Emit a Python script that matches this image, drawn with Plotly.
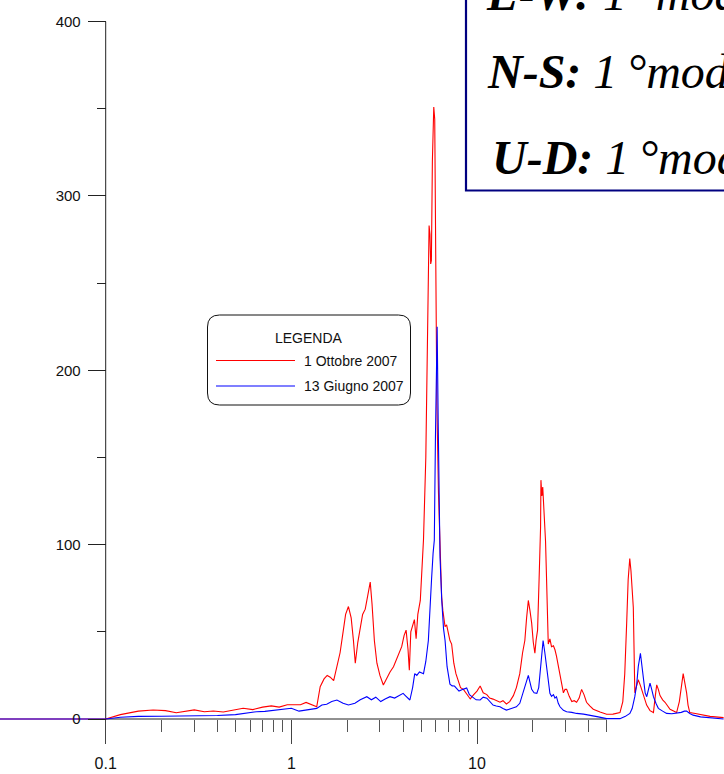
import plotly.graph_objects as go

# ---------------- data ----------------
series_names = ["1 Ottobre 2007", "13 Giugno 2007"]

red_f = [0.025, 0.1, 0.12, 0.15, 0.18, 0.21, 0.24, 0.27, 0.3, 0.34, 0.38, 0.43, 0.48, 0.55, 0.62, 0.7,
         0.78, 0.86, 0.95, 1.05, 1.12, 1.2, 1.3, 1.37, 1.43, 1.5, 1.56, 1.62, 1.69, 1.76, 1.83, 1.9,
         1.96, 2.03, 2.1, 2.16, 2.21, 2.28, 2.35, 2.42, 2.5, 2.58, 2.66, 2.72, 2.8, 2.89, 3.0, 3.13,
         3.25, 3.4, 3.55, 3.7, 3.8, 3.93, 4.05, 4.15, 4.25, 4.32, 4.4, 4.5, 4.6, 4.7, 4.8, 4.95,
         5.05, 5.15, 5.3, 5.45, 5.52, 5.58, 5.63, 5.68, 5.75, 5.85, 5.92, 6.0, 6.08, 6.2, 6.35, 6.45,
         6.55, 6.65, 6.73, 6.86, 7.0, 7.15, 7.3, 7.5, 7.7, 7.9, 8.15, 8.45, 8.8, 9.2, 9.6, 10.0,
         10.4, 10.8, 11.3, 11.7, 12.2, 12.7, 13.3, 13.8, 14.4, 15.0, 15.7, 16.3, 17.0, 17.6, 18.1, 18.5,
         18.9, 19.3, 19.7, 20.1, 20.5, 20.8, 21.2, 21.6, 22.0, 22.1, 22.35, 22.6, 23.0, 23.4, 23.7, 24.2,
         24.7, 25.2, 25.8, 26.3, 26.8, 27.4, 28.3, 29.2, 29.8, 30.4, 31.4, 32.4, 33.4, 34.4, 35.5, 36.6,
         37.7, 38.9, 40.5, 42.3, 46, 49.9, 54, 58.9, 61, 62.5, 64, 65.2, 66.5, 67.5, 69.5, 70.2,
         70.8, 72, 73.9, 76, 78.7, 82, 85.5, 89.2, 91, 92.9, 94.8, 96.8, 100, 103, 109.6, 118.9,
         123, 126.5, 129, 131, 134.6, 137, 140, 150, 158.6, 180, 213]
red_v = [0, 0, 2.5, 4.5, 5.2, 4.8, 3.6, 4.3, 5.2, 4.2, 4.6, 4.0, 5.0, 6.2, 5.4, 6.8,
         7.5, 6.8, 8.2, 8.0, 8.2, 9.5, 8.0, 7.0, 18.5, 23, 25, 24, 22, 30, 38, 50,
         60, 64.5, 58, 45, 32, 44, 52, 60, 63, 70, 78.5, 66, 45, 32, 25, 19.5,
         23, 27, 30, 35, 38, 41.5, 48, 51, 40, 28, 50, 54, 57, 46, 60, 68,
         84, 103, 150, 240, 283, 278, 261, 263, 320, 351, 344, 260, 180, 130, 90, 70,
         62, 57, 53, 54, 49, 45, 43, 32, 26, 22.5, 18, 17, 14, 11.5, 14, 16,
         18.9, 15, 14, 12, 11.4, 10.5, 9.6, 10.5, 8.6, 10, 13.4, 18, 26, 38, 45, 58,
         68, 62, 55, 44, 37.7, 45, 51, 80, 110, 137, 128, 133, 120, 102, 80, 43,
         46, 41.5, 42, 39.7, 36, 30, 22, 15, 17, 17, 13, 10, 10.5, 9.6, 12, 17,
         14, 9.6, 7.5, 5.6, 4, 2.7, 2.8, 3.7, 10, 26, 55, 80, 92, 85, 64, 35,
         15, 18, 22.5, 19, 13.4, 8, 4.8, 3.7, 12, 19.6, 17, 13.4, 11, 9.6, 5.6, 3.7,
         10, 20.6, 26, 22, 15, 8, 3.7, 3.2, 2.7, 1.5, 0.8]

blue_f = [0.025, 0.1, 0.12, 0.15, 0.2, 0.3, 0.4, 0.5, 0.58, 0.65, 0.72, 0.8, 0.9, 1.0, 1.1, 1.2,
          1.3, 1.37, 1.46, 1.55, 1.65, 1.76, 1.9, 2.03, 2.2, 2.35, 2.55, 2.7, 2.85, 3.03, 3.2, 3.4,
          3.6, 3.8, 4.0, 4.15, 4.35, 4.5, 4.62, 4.74, 4.9, 5.15, 5.3, 5.47, 5.6, 5.69, 5.8, 5.89,
          5.97, 6.04, 6.1, 6.18, 6.25, 6.32, 6.46, 6.6, 6.73, 6.9, 7.15, 7.35, 7.56, 8.0, 8.4, 8.8,
          9.1, 9.4, 9.9, 10.4, 10.8, 11.3, 11.7, 12.2, 12.7, 13.3, 13.8, 14.4, 15.3, 16.3, 17.0, 17.7,
          18.3, 18.9, 19.3, 19.7, 20.3, 21.0, 21.5, 21.8, 22.3, 22.7, 23.2, 23.7, 24.2, 24.7, 25.2, 25.8,
          26.3, 26.8, 27.4, 28.0, 29.2, 30.4, 32.4, 34.4, 37.5, 40.6, 45, 49.9, 54, 58.9, 63, 66.6,
          68.5, 70.8, 72.5, 73.9, 75.9, 77.2, 78.7, 80.5, 82.1, 84, 85.5, 87.3, 89.2, 92, 94.8, 100,
          105, 112, 119, 126, 131, 134.6, 140, 146, 160, 180, 213]
blue_v = [0, 0, 1.0, 1.5, 1.6, 1.8, 2.0, 2.5, 3.5, 4.2, 4.4, 5.0, 5.5, 6.2, 4.5, 5.0,
          5.5, 6.1, 8.0, 8.5, 10, 10.9, 9, 8, 9, 11, 12.8, 11, 12.5, 10, 11.5, 12.8,
          12, 13.5, 14.7, 13, 10.9, 18, 26, 25, 27, 26, 33, 45, 62, 80, 95, 102.6,
          160, 210, 225, 170, 125, 93, 68, 52, 45, 30, 20, 19, 18.9, 16, 17, 17.8,
          14, 12.8, 11, 10.9, 12.5, 11.9, 10, 8, 7.5, 7, 6, 5.1, 6, 7, 9, 14.7,
          20, 25, 21, 17, 15, 14.7, 18, 26, 38, 45, 38, 30, 20, 14.7, 13, 14,
          12, 12.8, 9, 7, 5, 4.2, 3.8, 3.2, 2.8, 2.2, 1.2, 0.2, 0.3, 0.2, 1.5, 3.2,
          6, 12.8, 20, 30, 37.7, 30, 22.5, 15, 12.8, 17, 20.6, 17, 12.8, 9, 6.1, 4.5,
          3.2, 3.0, 3.2, 3.8, 4.5, 4.6, 3.2, 2.2, 1.2, 0.6, 0]

y_tickvals = [0, 100, 200, 300, 400]
y_minor = [50, 150, 250, 350]
x_tickvals = [0.1, 1, 10]
x_ticktext = ["0.1", "1", "10"]
x_minor = [0.2, 0.3, 0.4, 0.5, 0.6, 0.7, 0.8, 0.9, 2, 3, 4, 5, 6, 7, 8, 9, 20, 30, 40, 50]
x_axis_end = 50
y_axis_end = 400

box_lines = [("E-W:", " 1\u2009°modo"), ("N-S:", " 1\u2009°modo"), ("U-D:", " 1\u2009°modo")]
legend_title = "LEGENDA"

# ---------------- layout helpers ----------------
W, H = 724, 774
def px(x):
    return x / W
def py(y):
    return 1 - y / H

Y0PX, YPU = 719.0, 1.7435          # pixel of y=0, pixels per unit
X01, DEC = 105.7, 185.65            # pixel of x=0.1, pixels per decade

xr = [-1 - X01 / DEC, -1 + (W - X01) / DEC]
yr = [-(H - Y0PX) / YPU, Y0PX / YPU]

colors = ["#ff0000", "#0000ff"]
fig = go.Figure()
fig.add_trace(go.Scatter(x=red_f, y=red_v, mode="lines", name=series_names[0],
                         line=dict(color=colors[0], width=1.1), showlegend=False))
fig.add_trace(go.Scatter(x=blue_f, y=blue_v, mode="lines", name=series_names[1],
                         line=dict(color=colors[1], width=1.1), showlegend=False))

sans = "Liberation Sans, Arial"
tickfont_y = dict(family=sans, size=15, color="#111")
tickfont_x = dict(family=sans, size=16, color="#111")

fig.update_layout(
    width=W, height=H,
    margin=dict(l=0, r=0, t=0, b=0, autoexpand=False),
    paper_bgcolor="white", plot_bgcolor="white",
    xaxis=dict(type="log", range=xr, domain=[0, 1], anchor="free", position=py(Y0PX),
               automargin=False,
               showgrid=False, zeroline=False, showline=False,
               tickmode="array", tickvals=x_tickvals, ticktext=x_ticktext,
               ticks="outside", ticklen=24, tickwidth=1.4, tickcolor="#444",
               tickfont=tickfont_x, ticklabelstandoff=6,
               minor=dict(tickmode="array", tickvals=x_minor, ticks="outside",
                          ticklen=12, tickwidth=1.3, tickcolor="#555", showgrid=False)),
    yaxis=dict(range=yr, domain=[0, 1], anchor="free", position=px(X01),
               automargin=False,
               showgrid=False, zeroline=False, showline=False,
               tickmode="array", tickvals=y_tickvals,
               ticks="outside", ticklen=18, tickwidth=1, tickcolor="#222",
               tickfont=tickfont_y, ticklabelstandoff=4,
               minor=dict(tickmode="array", tickvals=y_minor, ticks="outside",
                          ticklen=9, tickwidth=1, tickcolor="#222", showgrid=False)),
)

# axis lines (data values; plotly maps them through the log axis)
fig.add_shape(type="line", xref="x", yref="y", x0=x_tickvals[0], x1=x_tickvals[0],
              y0=0, y1=y_axis_end, line=dict(color="#222", width=1), layer="below")
fig.add_shape(type="line", xref="x", yref="y", x0=x_tickvals[0], x1=x_axis_end,
              y0=0, y1=0, line=dict(color="#222", width=1), layer="below")

# text box top-right
fig.add_shape(type="rect", xref="paper", yref="paper", x0=px(466), x1=px(760),
              y0=py(190.5), y1=py(-40), line=dict(color="#000080", width=2.2),
              fillcolor="white")
serif = "Liberation Serif, Times New Roman, serif"
line_mid = [-7, 72, 157]
line_x = [484, 485, 490]
for (bold, rest), ym, xl in zip(box_lines, line_mid, line_x):
    fig.add_annotation(xref="paper", yref="paper", x=px(xl), y=py(ym),
                       xanchor="left", yanchor="middle", showarrow=False,
                       text="<b><i>%s</i></b><i>%s</i>" % (bold, rest),
                       font=dict(family=serif, size=48, color="black"))

# custom legend with rounded box
lx0, lx1, ly0, ly1, r = 207.5, 410.5, 315, 405, 12
path = ("M {a},{b} L {c},{b} Q {d},{b} {d},{e} L {d},{f} Q {d},{g} {c},{g} "
        "L {a},{g} Q {h},{g} {h},{f} L {h},{e} Q {h},{b} {a},{b} Z").format(
    a=px(lx0 + r), b=py(ly0), c=px(lx1 - r), d=px(lx1), e=py(ly0 + r),
    f=py(ly1 - r), g=py(ly1), h=px(lx0))
fig.add_shape(type="path", xref="paper", yref="paper", path=path,
              line=dict(color="#111", width=1), fillcolor="white")
legfont = dict(family=sans, size=14, color="#111")
fig.add_annotation(xref="paper", yref="paper", x=px(309), y=py(338), text=legend_title,
                   showarrow=False, xanchor="center", yanchor="middle", font=legfont)
for name, col, yy in zip(series_names, colors, [360.5, 386]):
    fig.add_shape(type="line", xref="paper", yref="paper", x0=px(216), x1=px(295),
                  y0=py(yy), y1=py(yy), line=dict(color=col, width=1.2))
    fig.add_annotation(xref="paper", yref="paper", x=px(302), y=py(yy), text=name,
                       showarrow=False, xanchor="left", yanchor="middle", font=legfont)

fig.write_html("out.html")
